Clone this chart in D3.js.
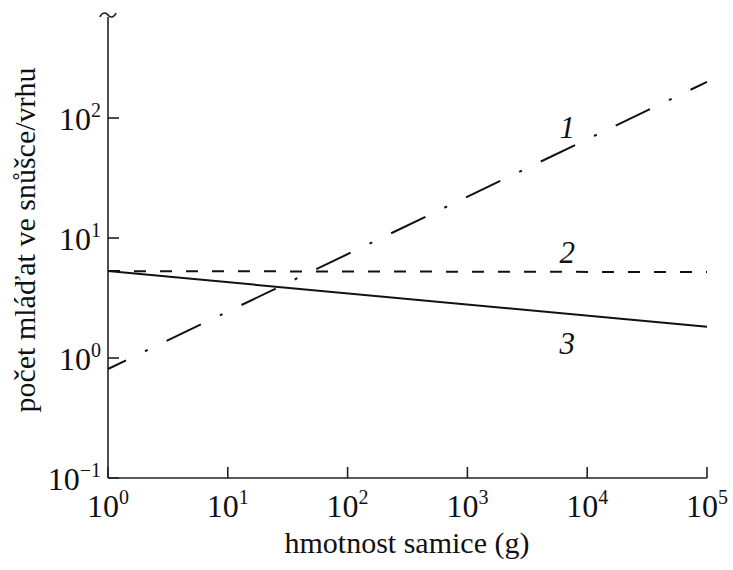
<!DOCTYPE html>
<html>
<head>
<meta charset="utf-8">
<script src="https://cdn.jsdelivr.net/npm/d3@7"></script>
<style>
  body { margin: 0; background: #fff; }
  text { font-family: "Liberation Serif", "DejaVu Serif", serif; fill: #111; }
</style>
</head>
<body>
<div id="chart"></div>
<script>
// data (log-log, straight lines)
var mass = [1, 1e5];
var series1 = [0.81, 200];   // dash-dot
var series2 = [5.3, 5.2];    // dashed
var series3 = [5.3, 1.82];   // solid
var xTicks = [1, 10, 100, 1000, 10000, 100000];
var yTicks = [0.1, 1, 10, 100];
var lineNames = ["1", "2", "3"];
var labelMass = [6800, 6800, 6800];
var labelCount = [84, 7.6, 1.33];

var svgWidth = 733;
var svgHeight = 570;

var svg = d3.select("#chart")
  .append("svg")
  .attr("width", svgWidth)
  .attr("height", svgHeight);

var xScale = d3.scaleLog()
  .domain([1, 1e5])
  .range([108, 707]);

var yScale = d3.scaleLog()
  .domain([0.1, 100])
  .range([478, 118]);

var ink = "#222";

// axes lines
svg.append("line")
  .attr("x1", xScale(1)).attr("x2", xScale(1))
  .attr("y1", yScale(0.1)).attr("y2", 17)
  .attr("stroke", ink).attr("stroke-width", 1.6);

svg.append("line")
  .attr("x1", xScale(1)).attr("x2", xScale(1e5))
  .attr("y1", yScale(0.1)).attr("y2", yScale(0.1))
  .attr("stroke", ink).attr("stroke-width", 1.6);

// axis break mark at the top
svg.append("path")
  .attr("d", "M100,17 C102,12 106,12 108,15 C110,18 114,18 116,13")
  .attr("fill", "none")
  .attr("stroke", ink)
  .attr("stroke-width", 1.6);

// ticks (inside)
svg.selectAll(".xtick")
  .data(xTicks)
  .enter()
  .append("line")
  .attr("x1", d => xScale(d)).attr("x2", d => xScale(d))
  .attr("y1", yScale(0.1)).attr("y2", yScale(0.1) - 11)
  .attr("stroke", ink).attr("stroke-width", 1.6);

svg.selectAll(".ytick")
  .data(yTicks)
  .enter()
  .append("line")
  .attr("x1", xScale(1)).attr("x2", xScale(1) + 11)
  .attr("y1", d => yScale(d)).attr("y2", d => yScale(d))
  .attr("stroke", ink).attr("stroke-width", 1.6);

// tick labels 10^n
function powerLabel(sel) {
  sel.append("tspan")
    .attr("font-size", 32)
    .text("10");
  sel.append("tspan")
    .attr("font-size", 20)
    .attr("dy", -13)
    .text(d => Math.round(Math.log10(d)) < 0 ? "\u22121" : String(Math.round(Math.log10(d))));
}

svg.selectAll(".xlabel")
  .data(xTicks)
  .enter()
  .append("text")
  .attr("x", d => xScale(d))
  .attr("y", 517)
  .attr("text-anchor", "middle")
  .call(powerLabel);

svg.selectAll(".ylabel")
  .data(yTicks)
  .enter()
  .append("text")
  .attr("x", xScale(1) - 7)
  .attr("y", d => yScale(d) + 12)
  .attr("text-anchor", "end")
  .call(powerLabel);

// axis titles
svg.append("text")
  .attr("x", 407)
  .attr("y", 553)
  .attr("text-anchor", "middle")
  .attr("font-size", 30)
  .text("hmotnost samice (g)");

svg.append("text")
  .attr("transform", "translate(35, 240) rotate(-90)")
  .attr("text-anchor", "middle")
  .attr("font-size", 30)
  .text("počet mláďat ve snůšce/vrhu");

// lines
var line = d3.line()
  .x(d => xScale(d[0]))
  .y(d => yScale(d[1]));

var allSeries = [series1, series2, series3];
var dashes = ["38,21,3,21", "12,14", null];
var offsets = [18, 0, 0];

allSeries.forEach(function(s, i) {
  svg.append("path")
    .datum(mass.map((m, j) => [m, s[j]]))
    .attr("d", line)
    .attr("fill", "none")
    .attr("stroke", "#111")
    .attr("stroke-width", 2)
    .attr("stroke-dasharray", dashes[i])
    .attr("stroke-dashoffset", offsets[i]);
});

// line labels
svg.selectAll(".lineName")
  .data(lineNames)
  .enter()
  .append("text")
  .attr("x", (d, i) => xScale(labelMass[i]))
  .attr("y", (d, i) => yScale(labelCount[i]))
  .attr("dy", "0.35em")
  .attr("text-anchor", "middle")
  .attr("font-size", 31)
  .attr("font-style", "italic")
  .text(d => d);
</script>
</body>
</html>
